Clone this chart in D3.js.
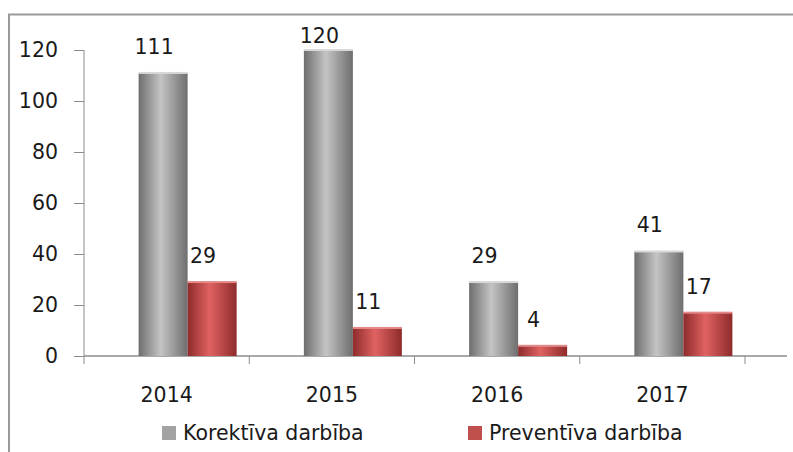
<!DOCTYPE html>
<html>
<head>
<meta charset="utf-8">
<script src="https://cdn.jsdelivr.net/npm/d3@7"></script>
<style>
  body { margin: 0; background: #fff; }
  svg { display: block; font-family: "DejaVu Sans", sans-serif; }
</style>
</head>
<body>
<div id="chart"></div>
<script>
// data
const years = ["2014", "2015", "2016", "2017"];
const series = ["Korektīva darbība", "Preventīva darbība"];
const korektiva = [111, 120, 29, 41];
const preventiva = [29, 11, 4, 17];
const yTicks = [0, 20, 40, 60, 80, 100, 120];

const W = 793, H = 452;
const FONT = "DejaVu Sans, sans-serif";
const FS = 20.5;
const svg = d3.select("#chart").append("svg")
  .attr("width", W).attr("height", H);

// gradients, cylinder-ish shading
const defs = svg.append("defs");
function grad(id, edge, mid) {
  const g = defs.append("linearGradient").attr("id", id)
    .attr("x1", "0%").attr("x2", "100%").attr("y1", "0%").attr("y2", "0%");
  g.append("stop").attr("offset", "0%").attr("stop-color", edge);
  g.append("stop").attr("offset", "45%").attr("stop-color", mid);
  g.append("stop").attr("offset", "100%").attr("stop-color", edge);
}
grad("gGray", "#6e6e6e", "#c4c4c4");
grad("gRed", "#8e2b2b", "#e06262");
const fills = ["url(#gGray)", "url(#gRed)"];
const legendColors = ["#a3a3a3", "#c0504d"];

// outer border
svg.append("path")
  .attr("d", `M9,${H} L9,14.5 L${W},14.5`)
  .attr("fill", "none").attr("stroke", "#9a9a9a").attr("stroke-width", 2);

const x = d3.scaleBand().domain(years).range([84, 745]).padding(0);
const sub = d3.scaleBand().domain(series).range([0, 98]).padding(0);
const y = d3.scaleLinear().domain([0, 120]).range([356, 50]);
const depth = 21; // 3d shift of the bars

// y axis
svg.append("g")
  .attr("transform", "translate(84,0)")
  .call(d3.axisLeft(y).tickValues(yTicks).tickSize(10).tickPadding(16).tickSizeOuter(0))
  .call(g => g.select(".domain").attr("d", `M0,${y(120)}V${y(0)}`).attr("stroke", "#8c8c8c"))
  .call(g => g.selectAll(".tick line").attr("stroke", "#8c8c8c"))
  .call(g => g.selectAll("text").attr("font-size", FS).attr("font-family", FONT).attr("fill", "#1a1a1a"));

// x axis
svg.append("g")
  .attr("transform", `translate(0,${y(0)})`)
  .call(d3.axisBottom(x).tickSize(0).tickPadding(31))
  .call(g => g.select(".domain").remove())
  .call(g => g.selectAll("text").attr("font-size", FS).attr("font-family", FONT).attr("fill", "#1a1a1a"));

svg.append("line")
  .attr("x1", 84).attr("x2", 787).attr("y1", y(0)).attr("y2", y(0))
  .attr("stroke", "#8c8c8c").attr("stroke-width", 1.5);

svg.selectAll(".xtick")
  .data(years.concat([null]))
  .join("line")
  .attr("x1", (d, i) => 84 + i * x.bandwidth())
  .attr("x2", (d, i) => 84 + i * x.bandwidth())
  .attr("y1", y(0)).attr("y2", y(0) + 8)
  .attr("stroke", "#8c8c8c");

// bars
const rows = [];
years.forEach((yr, i) => {
  rows.push({ year: yr, s: 0, v: korektiva[i] });
  rows.push({ year: yr, s: 1, v: preventiva[i] });
});

const barX = d => x(d.year) + x.bandwidth() / 2 + depth - sub.bandwidth() + sub(series[d.s]);

svg.selectAll(".bar")
  .data(rows)
  .join("rect")
  .attr("class", "bar")
  .attr("x", barX)
  .attr("y", d => y(d.v))
  .attr("width", sub.bandwidth())
  .attr("height", d => y(0) - y(d.v))
  .attr("fill", d => fills[d.s]);

// light top edge
svg.selectAll(".top")
  .data(rows)
  .join("rect")
  .attr("x", barX)
  .attr("y", d => y(d.v) - 1)
  .attr("width", sub.bandwidth())
  .attr("height", 2)
  .attr("fill", d => d.s === 0 ? "#d8d8d8" : "#e58a8a");

// value labels
svg.selectAll(".label")
  .data(rows)
  .join("text")
  .attr("class", "label")
  .attr("text-anchor", "middle")
  .attr("font-size", FS).attr("font-family", FONT).attr("fill", "#1a1a1a")
  .attr("x", d => barX(d) + sub.bandwidth() / 2 - 9)
  .attr("y", d => Math.max(43, y(d.v) - 19))
  .text(d => d.v);

// legend
const lx = [162, 468];
const lg = svg.selectAll(".legend")
  .data(series)
  .join("g")
  .attr("class", "legend")
  .attr("transform", (d, i) => `translate(${lx[i]},426)`);
lg.append("rect").attr("width", 14).attr("height", 14)
  .attr("fill", (d, i) => legendColors[i]);
lg.append("text").attr("x", 21).attr("y", 14)
  .attr("font-size", 20.5).attr("font-family", FONT).attr("fill", "#1a1a1a")
  .text(d => d);
</script>
</body>
</html>
